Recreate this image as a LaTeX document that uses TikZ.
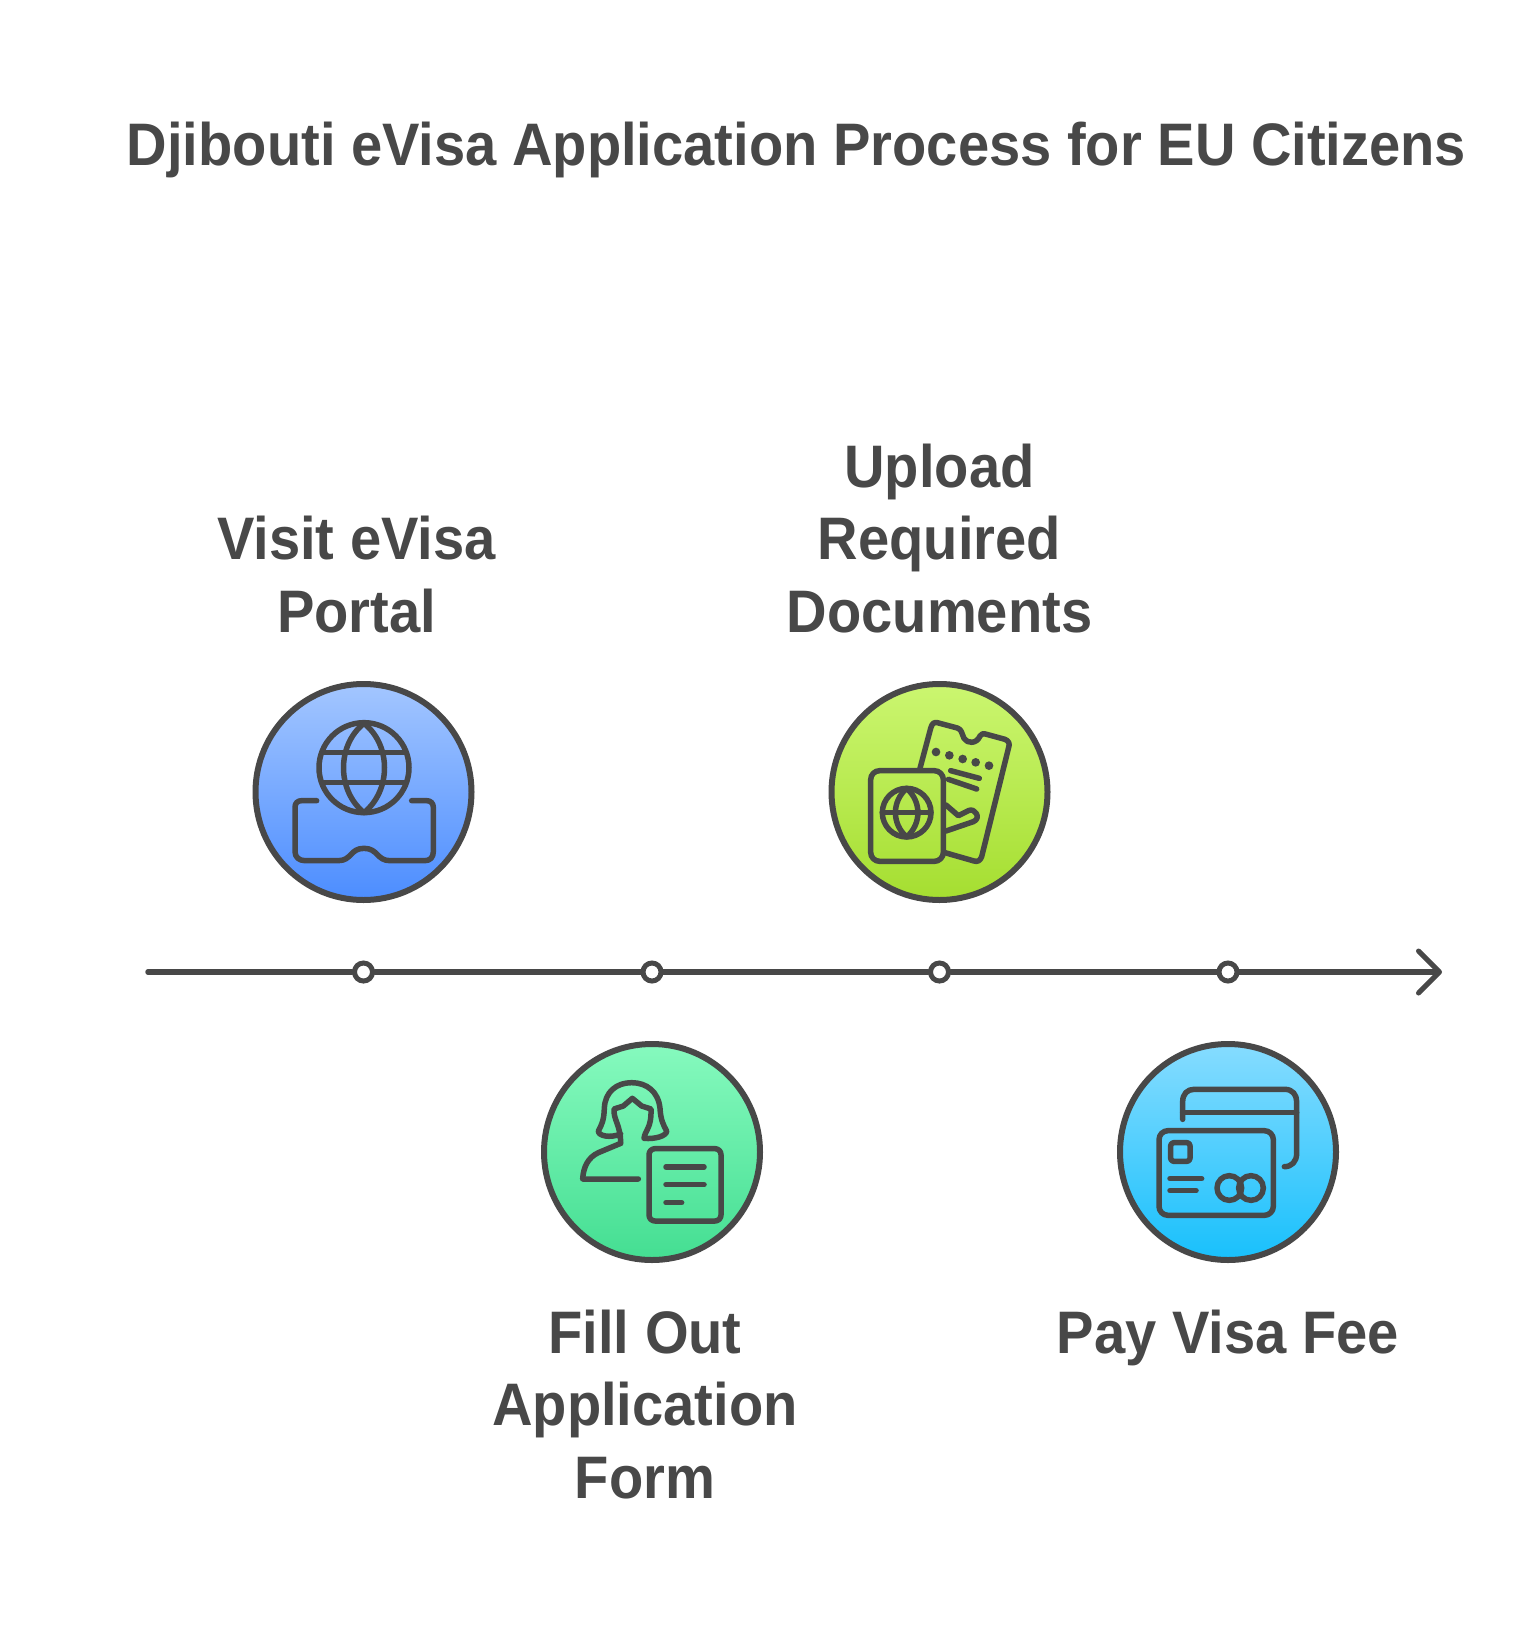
\documentclass[tikz,border=0pt]{standalone}
\usepackage{fontspec}
\setmainfont{Liberation Sans}[FakeStretch=0.935]
\usetikzlibrary{arrows.meta,positioning,shadings}
\definecolor{inkgray}{HTML}{484848}

\begin{document}
\begin{tikzpicture}[x=1pt,y=-1pt,
  stepdisc/.style={circle,draw=inkgray,line width=6pt,minimum size=216pt,inner sep=0pt,shading angle=0},
  steptext/.style={text=inkgray,font=\fontsize{60}{72.5}\bfseries\selectfont,align=center,inner sep=0pt,outer sep=0pt},
  dot/.style={circle,draw=inkgray,fill=white,line width=5pt,minimum size=18pt,inner sep=0pt},
  glyph/.style={draw=inkgray,line width=5.5pt,line cap=round,line join=round},
  timeline/.style={draw=inkgray,line width=5.5pt,line cap=round}]

\useasboundingbox (0,0) rectangle (1537,1629);

\node [steptext,anchor=base] (title) at (796.5,166) {Djibouti eVisa Application Process for EU Citizens};

% circles of the four steps
\node [stepdisc,top color={rgb,255:red,163;green,198;blue,255},bottom color={rgb,255:red,76;green,141;blue,255}] (visit) at (363.5,792) {};
\node [stepdisc,top color={rgb,255:red,134;green,250;blue,190},bottom color={rgb,255:red,68;green,222;blue,146}] (fill) at (652,1152) {};
\node [stepdisc,top color={rgb,255:red,203;green,246;blue,112},bottom color={rgb,255:red,165;green,222;blue,48}] (upload) at (939.5,792) {};
\node [stepdisc,top color={rgb,255:red,134;green,220;blue,255},bottom color={rgb,255:red,24;green,192;blue,252}] (pay) at (1228,1152) {};

\node [steptext,above=48pt of visit,xshift=-7pt] (visitlabel) {Visit eVisa\\Portal};
\node [steptext,above=48pt of upload] (uploadlabel) {Upload\\Required\\Documents};
\node [steptext,below=47pt of fill,xshift=-7pt] (filllabel) {Fill Out\\Application\\Form};
\node [steptext,below=47pt of pay] (paylabel) {Pay Visa Fee};

% time line
\coordinate (linestart) at (148,972);
\coordinate (lineend) at (1442,972);
\node [dot] (visitdot) at (363.5,972) {};
\node [dot] (filldot) at (652,972) {};
\node [dot] (uploaddot) at (939.5,972) {};
\node [dot] (paydot) at (1228,972) {};
\draw [timeline] (linestart) -- (visitdot);
\draw [timeline] (visitdot) -- (filldot);
\draw [timeline] (filldot) -- (uploaddot);
\draw [timeline] (uploaddot) -- (paydot);
\draw [timeline,-{Straight Barb[length=21pt,width=42pt,line width=5pt,round]}] (paydot) -- (lineend);

% globe and screen
\begin{scope}[shift={(240,670)},scale=1/3]
\draw [glyph] (372,293) circle (135);
\draw [glyph] (372,160) .. controls (290,225) and (290,361) .. (372,428) .. controls (454,361) and (454,225) .. (372,160);
\draw [glyph] (247,248) -- (497,248);
\draw [glyph] (247,338) -- (497,338);
\draw [glyph] (230,392) -- (185,392) .. controls (172,392) and (165,400) .. (165,412) -- (165,545) .. controls (165,562) and (178,572) .. (195,572) -- (295,572) .. controls (335,572) and (330,535) .. (372,535) .. controls (414,535) and (410,572) .. (450,572) -- (555,572) .. controls (570,572) and (580,562) .. (580,545) -- (580,412) .. controls (580,400) and (572,392) .. (560,392) -- (515,392);
\end{scope}

% passport and ticket
\begin{scope}[shift={(820,670)},scale=1/3]
\draw [glyph] (300,295) -- (332,175) .. controls (336,160) and (342,156) .. (352,158) -- (412,174) .. controls (425,178) and (425,190) .. (432,205) .. controls (442,222) and (470,222) .. (480,198) .. controls (484,190) and (490,190) .. (500,193) -- (555,208) .. controls (566,212) and (570,222) .. (566,232) -- (485,560) .. controls (480,573) and (472,576) .. (462,573) -- (375,548);
\foreach \dotx/\doty in {348/246,388/256,428/267,467/277,507/287}
  \fill [inkgray] (\dotx,\doty) circle (13);
\draw [glyph] (392,302) -- (478,325);
\draw [glyph] (385,328) -- (470,357);
\draw [glyph] (378,405) -- (415,437) -- (445,422) .. controls (465,412) and (485,445) .. (460,455) -- (378,483);
\draw [glyph,rounded corners=9pt] (152,302) rectangle (370,574);
\draw [glyph] (260,428) circle (73);
\draw [glyph] (260,355) .. controls (215,395) and (215,461) .. (260,501) .. controls (305,461) and (305,395) .. (260,355);
\draw [glyph] (187,428) -- (333,428);
\end{scope}

% person and form
\begin{scope}[shift={(530,1030)},scale=1/3]
\draw [glyph] (272,312) .. controls (240,325) and (205,318) .. (205,303) .. controls (215,285) and (222,270) .. (223,235) .. controls (225,185) and (260,158) .. (305,158) .. controls (350,158) and (385,185) .. (390,235) .. controls (392,270) and (400,285) .. (410,303) .. controls (410,318) and (375,328) .. (342,325) .. controls (345,300) and (365,295) .. (363,237) -- (335,228) -- (307,205) -- (280,228) -- (252,237) .. controls (250,270) and (272,285) .. (272,340);
\draw [glyph] (272,340) -- (205,368) .. controls (175,382) and (160,410) .. (158,447) -- (325,447);
\draw [glyph,rounded corners=6pt] (357,356) rectangle (573,573);
\draw [glyph] (408,411) -- (522,411);
\draw [glyph] (408,464) -- (522,464);
\draw [glyph] (408,518) -- (455,518);
\end{scope}

% two bank cards
\begin{scope}[shift={(1110,1030)},scale=1/3]
\draw [glyph] (218,268) -- (218,215) .. controls (218,192) and (232,178) .. (252,178) -- (525,178) .. controls (548,178) and (560,195) .. (560,215) -- (560,370) .. controls (560,395) and (545,410) .. (523,410);
\draw [glyph] (218,248) -- (560,248);
\draw [glyph,rounded corners=9pt] (147,302) rectangle (490,556);
\draw [glyph,rounded corners=3pt] (182,338) rectangle (240,394);
\draw [glyph] (180,446) -- (275,446);
\draw [glyph] (180,482) -- (258,482);
\draw [glyph] (358,474) circle (37);
\draw [glyph] (423,474) circle (37);
\begin{scope}
\clip (358,474) circle (37);
\fill [inkgray] (423,474) circle (37);
\end{scope}
\end{scope}
\end{tikzpicture}
\end{document}
